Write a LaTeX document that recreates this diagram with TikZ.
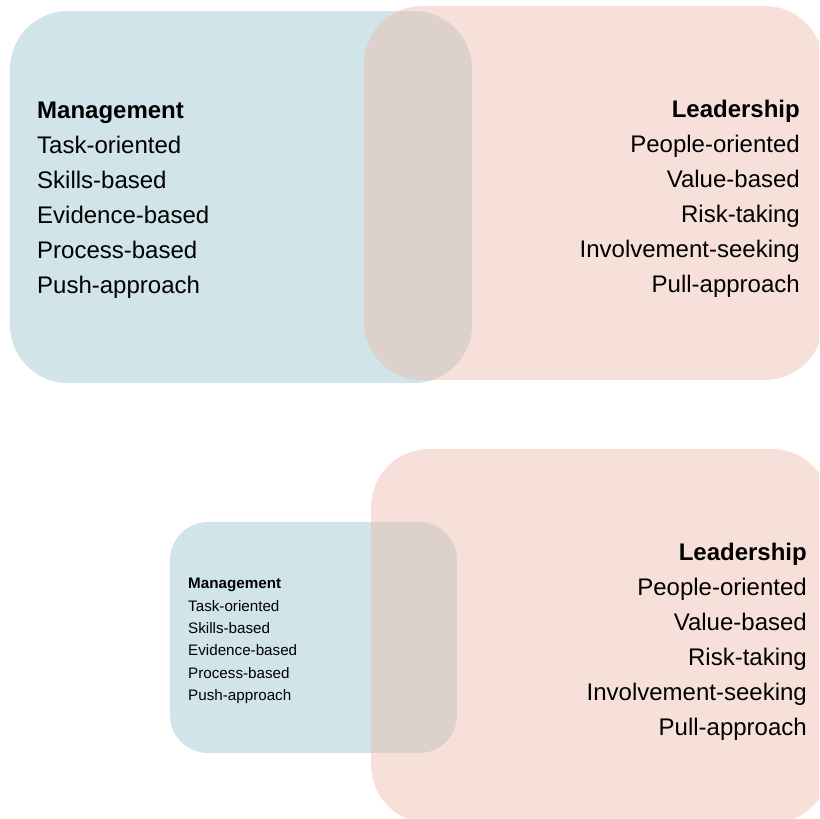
\documentclass[tikz,border=0pt]{standalone}
\usepackage{fontspec}
\setmainfont{Liberation Sans}
\definecolor{mgmtblue}{RGB}{208,228,233}
\definecolor{leadpink}{RGB}{237,186,170}
\tikzset{
  mgmtbox/.style={fill=mgmtblue, rounded corners=#1},
  leadbox/.style={fill=leadpink, fill opacity=0.45, rounded corners=#1},
  biglist/.style={inner sep=0pt, font=\fontsize{24}{35}\selectfont},
  smalllist/.style={inner sep=0pt, font=\fontsize{15.2}{22.4}\selectfont}
}
\begin{document}
\begin{tikzpicture}[x=1pt,y=-1pt]
    \useasboundingbox (0,0) rectangle (819,819);
    \clip (0,0) rectangle (819,819);

    % Diagrama de cima (mesmo tamanho)
    \fill[mgmtbox=58pt] (10,11) rectangle (472,383);
    \fill[leadbox=58pt] (364,6) rectangle (823,380);

    % Diagrama de baixo (Management menor)
    \fill[mgmtbox=38pt] (170,522) rectangle (457,753);
    \fill[leadbox=58pt] (371,449) rectangle (830,823);

    \node[biglist, anchor=north west, align=left] (mgmttop) at (37,101.8)
      {\textbf{Management}\\Task-oriented\\Skills-based\\Evidence-based\\Process-based\\Push-approach};
    \node[biglist, anchor=north east, align=right] (leadtop) at (800,99.8)
      {\textbf{Leadership}\\People-oriented\\Value-based\\Risk-taking\\Involvement-seeking\\Pull-approach};

    \node[smalllist, anchor=north west, align=left] (mgmtbot) at (188,578.1)
      {\textbf{Management}\\Task-oriented\\Skills-based\\Evidence-based\\Process-based\\Push-approach};
    \node[biglist, anchor=north east, align=right] (leadbot) at (807,542.8)
      {\textbf{Leadership}\\People-oriented\\Value-based\\Risk-taking\\Involvement-seeking\\Pull-approach};
  \end{tikzpicture}
\end{document}
